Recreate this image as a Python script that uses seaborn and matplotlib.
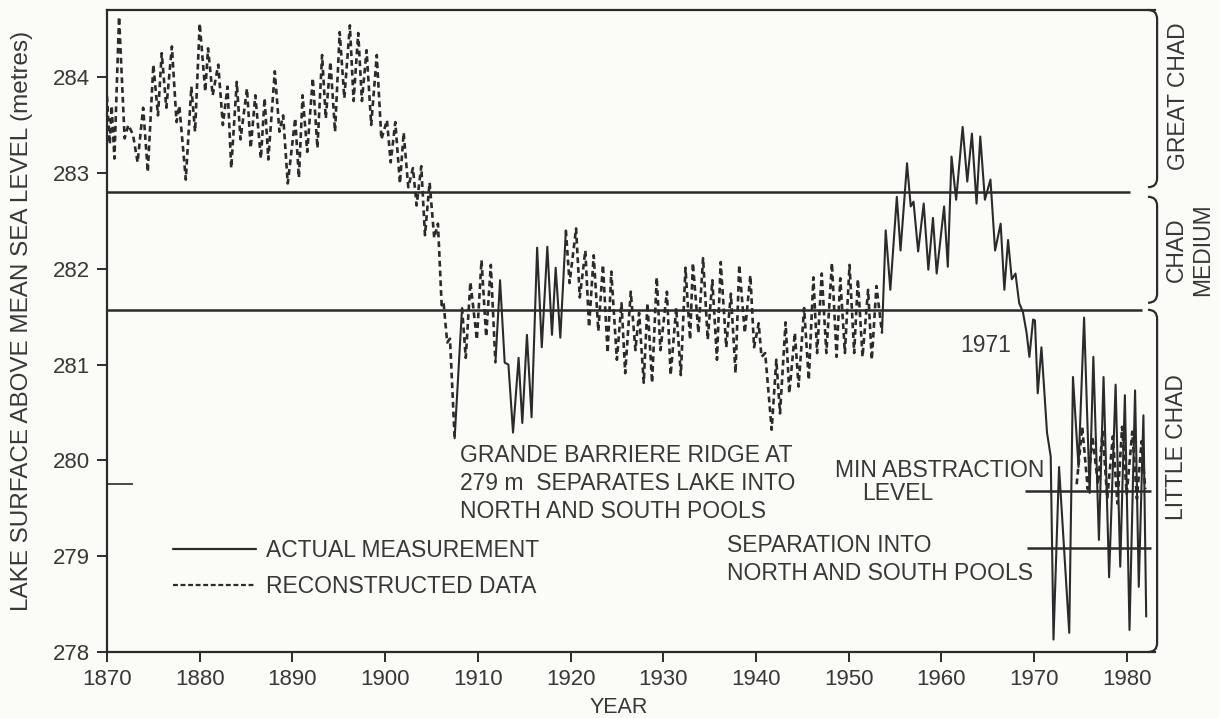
import numpy as np
import pandas as pd
import matplotlib
matplotlib.use('Agg')
import matplotlib.pyplot as plt
from matplotlib.path import Path
from matplotlib.patches import PathPatch
from matplotlib.lines import Line2D
import seaborn as sns

## ============================================================= ##
## values (year, lake level in m)

# reconstructed data 1870 - 1907
rec1_year = [1870.0, 1870.3, 1870.5, 1870.8, 1871.3, 1871.9, 1872.3, 1872.8, 1873.3, 1873.9,
             1874.4, 1875.0, 1875.5, 1875.9, 1876.4, 1877.0, 1877.5, 1877.8, 1878.5, 1879.1,
             1879.5, 1880.0, 1880.6, 1880.9, 1881.4, 1882.0, 1882.5, 1883.0, 1883.4, 1884.0,
             1884.4, 1885.1, 1885.5, 1886.0, 1886.6, 1887.0, 1887.4, 1888.1, 1888.6, 1889.0,
             1889.5, 1890.3, 1890.7, 1891.1, 1891.6, 1892.2, 1892.7, 1893.2, 1893.6, 1894.1,
             1894.6, 1895.1, 1895.6, 1896.2, 1896.6, 1897.1, 1897.5, 1898.0, 1898.5, 1899.1,
             1899.6, 1900.2, 1900.6, 1901.1, 1901.6, 1902.0, 1902.5, 1903.0, 1903.4, 1903.9,
             1904.3, 1904.8, 1905.3, 1905.7, 1906.1, 1906.3, 1906.7, 1907.0, 1907.5]
rec1_level = [283.80, 283.30, 283.70, 283.15, 284.63, 283.36, 283.50, 283.40, 283.11, 283.68,
              283.01, 284.13, 283.60, 284.25, 283.68, 284.32, 283.53, 283.70, 282.93, 283.90,
              283.43, 284.56, 283.85, 284.30, 283.81, 284.13, 283.50, 283.90, 283.05, 283.95,
              283.35, 283.88, 283.26, 283.81, 283.15, 283.78, 283.14, 284.06, 283.43, 283.60,
              282.89, 283.57, 282.95, 283.81, 283.22, 283.99, 283.26, 284.23, 283.57, 284.16,
              283.43, 284.47, 283.78, 284.54, 283.75, 284.46, 283.75, 284.28, 283.50, 284.23,
              283.35, 283.55, 283.11, 283.53, 282.89, 283.42, 282.85, 283.05, 282.66, 283.07,
              282.35, 282.90, 282.32, 282.47, 281.62, 281.65, 281.23, 281.27, 280.23]

# actual measurement 1907 - 1908
act1_year = [1907.5, 1908.3]
act1_level = [280.23, 281.59]

# reconstructed data 1908 - 1912
rec2_year = [1908.3, 1908.7, 1909.2, 1909.9, 1910.4, 1910.9, 1911.4, 1911.9]
rec2_level = [281.59, 281.07, 281.86, 281.26, 282.09, 281.29, 282.04, 281.02]

# actual measurement 1912 - 1919
act2_year = [1911.9, 1912.4, 1912.9, 1913.3, 1913.8, 1914.4, 1914.8, 1915.3, 1915.8, 1916.4,
             1916.9, 1917.5, 1918.0, 1918.4, 1918.9, 1919.5]
act2_level = [281.02, 281.88, 281.02, 281.00, 280.29, 281.07, 280.39, 281.31, 280.45, 282.22,
              281.18, 282.23, 281.31, 282.01, 281.28, 282.40]

# reconstructed data 1919 - 1953
rec3_year = [1919.5, 1919.9, 1920.6, 1921.0, 1921.6, 1922.0, 1922.5, 1923.0, 1923.5, 1924.0,
             1924.4, 1925.0, 1925.5, 1925.9, 1926.5, 1927.0, 1927.4, 1927.9, 1928.3, 1928.8,
             1929.3, 1929.7, 1930.4, 1930.8, 1931.4, 1931.9, 1932.4, 1932.9, 1933.2, 1933.8,
             1934.3, 1934.8, 1935.3, 1935.8, 1936.2, 1936.8, 1937.3, 1937.8, 1938.2, 1938.8,
             1939.4, 1939.8, 1940.3, 1940.6, 1941.0, 1941.7, 1942.2, 1942.6, 1943.2, 1943.6,
             1944.2, 1944.6, 1945.2, 1945.7, 1946.2, 1946.6, 1947.1, 1947.6, 1948.2, 1948.7,
             1949.1, 1949.6, 1950.1, 1950.6, 1951.0, 1951.5, 1952.1, 1952.5, 1953.0, 1953.6]
rec3_level = [282.40, 281.85, 282.42, 281.70, 282.19, 281.39, 282.14, 281.35, 282.04, 281.12,
              281.97, 281.05, 281.64, 280.91, 281.76, 281.15, 281.54, 280.81, 281.64, 280.81,
              281.91, 281.15, 281.76, 280.89, 281.59, 280.89, 282.01, 281.26, 282.06, 281.33,
              282.11, 281.26, 281.88, 281.05, 282.07, 281.18, 281.74, 280.91, 282.04, 281.33,
              281.93, 281.18, 281.43, 281.08, 281.12, 280.32, 281.05, 280.49, 281.44, 280.70,
              281.33, 280.77, 281.59, 280.84, 281.91, 281.12, 281.95, 281.12, 282.06, 281.08,
              281.90, 281.12, 282.04, 281.12, 281.89, 281.08, 281.78, 281.05, 281.82, 281.33]

# actual measurement 1953 - 1982
act3_year = [1953.6, 1954.0, 1954.5, 1955.2, 1955.6, 1956.3, 1956.7, 1957.0, 1957.5, 1958.1,
             1958.6, 1959.1, 1959.5, 1960.3, 1960.7, 1961.1, 1961.6, 1962.3, 1962.8, 1963.3,
             1963.8, 1964.2, 1964.7, 1965.3, 1965.8, 1966.4, 1966.8, 1967.2, 1967.6, 1968.0,
             1968.4, 1968.8, 1969.2, 1969.5, 1969.9, 1970.1, 1970.4, 1970.8, 1971.4, 1971.8,
             1972.1, 1972.7, 1973.8, 1974.2, 1974.8, 1975.4, 1976.0, 1976.4, 1977.0, 1977.5,
             1978.1, 1978.8, 1979.3, 1979.8, 1980.3, 1980.9, 1981.3, 1981.8, 1982.1]
act3_level = [281.33, 282.40, 281.78, 282.75, 282.19, 283.10, 282.65, 282.70, 282.18, 282.68,
              281.99, 282.53, 281.95, 282.65, 282.02, 283.17, 282.72, 283.48, 282.91, 283.41,
              282.68, 283.38, 282.72, 282.93, 282.19, 282.47, 281.78, 282.30, 281.89, 281.95,
              281.64, 281.55, 281.33, 281.08, 281.47, 281.46, 280.70, 281.18, 280.29, 280.04,
              278.13, 279.93, 278.20, 280.87, 279.93, 281.49, 279.66, 281.08, 279.17, 280.87,
              278.78, 280.79, 278.89, 280.68, 278.23, 280.73, 278.68, 280.47, 278.37]

# reconstructed (north pool) overlay 1974 - 1982
rec4_year = [1974.6, 1975.2, 1975.8, 1976.3, 1976.9, 1977.4, 1977.9, 1978.5, 1979.0, 1979.5,
             1980.0, 1980.6, 1981.1, 1981.6, 1982.0]
rec4_level = [279.75, 280.35, 279.70, 280.25, 279.75, 280.30, 279.60, 280.25, 279.55, 280.35,
              279.65, 280.30, 279.60, 280.20, 279.70]

# lake stage boundaries (Great / Medium / Little Chad)
stage_level = [282.80, 281.57]
stage_end = [1980.35, 1981.6]

# min abstraction level and pool separation level (drawn from 1969)
pool_level = [279.68, 279.09]
pool_start = [1969.0, 1969.2]
pool_end = [1982.6, 1982.6]

# short level mark at the start of the record
start_level = 279.75
start_end = 1872.8

year_ticks = list(range(1870, 1990, 10))
level_ticks = list(range(278, 285))

## ============================================================= ##

INK = '#2b2b2b'
TXT = '#383838'
PAPER = '#fbfbf8'
FS = 16.5

sns.set_style('ticks')
plt.rcParams['font.family'] = ['Liberation Sans', 'DejaVu Sans']


def segments(parts):
    frames = [pd.DataFrame({'year': yr, 'level': lv, 'seg': name}) for name, yr, lv in parts]
    return pd.concat(frames, ignore_index=True)


df_act = segments([('a1', act1_year, act1_level),
                   ('a2', act2_year, act2_level),
                   ('a3', act3_year, act3_level)])
df_rec = segments([('r1', rec1_year, rec1_level),
                   ('r2', rec2_year, rec2_level),
                   ('r3', rec3_year, rec3_level),
                   ('r4', rec4_year, rec4_level)])

fig = plt.figure(figsize=(12.19, 7.18), dpi=100, facecolor=PAPER)
ax = fig.add_axes([107/1219, 66/718, 1048/1219, 642/718])
ax.set_facecolor(PAPER)

dash = (0, (2.2, 1.5))
sns.lineplot(data=df_rec, x='year', y='level', units='seg', estimator=None, sort=False,
             color=INK, lw=1.9, linestyle=dash, ax=ax)
sns.lineplot(data=df_act, x='year', y='level', units='seg', estimator=None, sort=False,
             color=INK, lw=1.5, ax=ax)

ax.hlines(stage_level, 1870, stage_end, color=INK, lw=1.8)
ax.hlines(pool_level, pool_start, pool_end, color=INK, lw=1.8, clip_on=False)
ax.hlines(start_level, 1870, start_end, color=INK, lw=1.2)

ax.set_xlim(1870, 1983.05)
ax.set_ylim(278, 284.70)
ax.set_xticks(year_ticks)
ax.set_yticks(level_ticks)

for s in ['left', 'bottom', 'top']:
    ax.spines[s].set_linewidth(1.6)
    ax.spines[s].set_color(INK)
ax.spines['right'].set_visible(False)
ax.tick_params(axis='both', direction='out', length=7, width=1.4, color=INK,
               labelsize=16, labelcolor=TXT, pad=5)

ax.set_xlabel('YEAR', fontsize=15.5, color=TXT)
ax.xaxis.set_label_coords(0.4885, -0.070)
ax.set_ylabel('LAKE SURFACE ABOVE MEAN SEA LEVEL (metres)', fontsize=17.5, color=TXT)
ax.yaxis.set_label_coords(-0.071, 0.515)


# curly brackets on the right hand side
def brace(y0, y1):
    dx, dy = 7/1048, 9/642
    verts = [(1 - dx, y1), (1.002, y1), (1.002, y1 - dy),
             (1.002, y0 + dy), (1.002, y0), (1 - dx, y0)]
    codes = [Path.MOVETO, Path.CURVE3, Path.CURVE3, Path.LINETO, Path.CURVE3, Path.CURVE3]
    ax.add_patch(PathPatch(Path(verts, codes), transform=ax.transAxes, fill=False,
                           lw=1.6, ec=INK, clip_on=False))


brace(0.724, 1.0)
brace(0.544, 0.709)
brace(0.0, 0.533)

side = dict(rotation=90, ha='center', va='center', fontsize=FS, color=TXT, transform=ax.transAxes)
ax.text(1.0225, 0.866, 'GREAT CHAD', **side)
ax.text(1.0205, 0.626, 'CHAD', **side)
ax.text(1.0455, 0.626, 'MEDIUM', **side)
ax.text(1.0205, 0.319, 'LITTLE CHAD', **side)

note = dict(ha='left', va='baseline', fontsize=FS, color=TXT)
ax.text(1908.1, 279.98, 'GRANDE BARRIERE RIDGE AT', **note)
ax.text(1908.1, 279.69, '279 m  SEPARATES LAKE INTO', **note)
ax.text(1908.1, 279.40, 'NORTH AND SOUTH POOLS', **note)
ax.text(1948.5, 279.83, 'MIN ABSTRACTION', **note)
ax.text(1951.5, 279.59, 'LEVEL', **note)
ax.text(1936.9, 279.04, 'SEPARATION INTO', **note)
ax.text(1936.9, 278.75, 'NORTH AND SOUTH POOLS', **note)
ax.text(1962.0, 281.13, '1971', **note)

handles = [Line2D([], [], color=INK, lw=1.6),
           Line2D([], [], color=INK, lw=1.6, linestyle=(0, (2.2, 1.2)))]
leg = ax.legend(handles, ['ACTUAL MEASUREMENT', 'RECONSTRUCTED DATA'],
                loc='center left', bbox_to_anchor=(0.063, 0.130), frameon=False,
                fontsize=FS, handlelength=3.6, handletextpad=0.45, labelspacing=0.6,
                borderpad=0, borderaxespad=0, labelcolor=TXT)

fig.savefig('out.png', dpi=100, facecolor=PAPER)
